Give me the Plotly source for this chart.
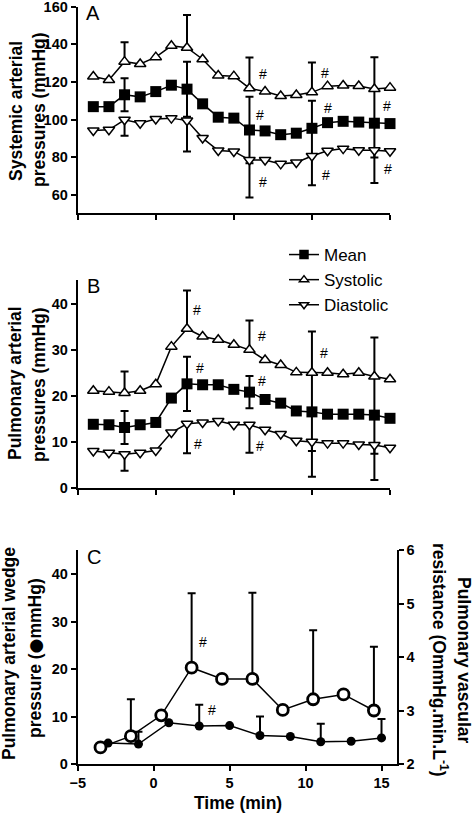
import numpy as np
import plotly.graph_objects as go

W, H = 473, 814
nan = np.nan

# ---------------- data ----------------
time_ab = [-4, -3, -2, -1, 0, 1, 2, 3, 4, 5, 6, 7, 8, 9, 10, 11, 12, 13, 14, 15]

# Panel A: systemic arterial pressures (mmHg)
sys_a = [122.9, 121.1, 130.8, 129.6, 133.2, 139.2, 138.2, 132.1, 123.4, 123.1,
         116.7, 114.9, 112.6, 113.1, 114.5, 117.8, 118.1, 117.9, 116.3, 117.0]
mean_a = [106.9, 106.9, 113.2, 112.1, 114.9, 118.3, 116.2, 108.4, 101.3, 100.8,
          94.5, 94.0, 92.0, 92.8, 95.4, 98.4, 99.1, 98.7, 98.1, 97.9]
dia_a = [94.2, 94.6, 99.9, 98.1, 100.3, 100.8, 99.5, 90.2, 83.6, 83.1,
         78.6, 78.6, 76.5, 77.2, 80.7, 83.5, 84.6, 83.7, 83.7, 83.2]
sys_a_up = [nan, nan, 10.3, nan, nan, nan, 17.4, nan, nan, nan,
            16.3, nan, nan, nan, 15.8, nan, nan, nan, 16.8, nan]
mean_a_sd = [nan, nan, 8.8, nan, nan, nan, 14.6, nan, nan, nan,
             17.7, nan, nan, nan, 14.6, nan, nan, nan, 18.2, nan]
dia_a_down = [nan, nan, 8.5, nan, nan, nan, 16.4, nan, nan, nan,
              20.0, nan, nan, nan, 15.6, nan, nan, nan, 17.3, nan]

# Panel B: pulmonary arterial pressures (mmHg)
sys_b = [21.1, 20.9, 20.6, 21.1, 22.5, 30.7, 34.6, 32.9, 32.2, 31.1,
         30.0, 27.8, 26.7, 25.1, 25.0, 25.0, 24.7, 25.0, 24.2, 23.6]
mean_b = [13.8, 13.7, 13.1, 13.7, 14.2, 19.5, 22.6, 22.4, 22.4, 21.4,
          20.8, 19.2, 18.4, 16.7, 16.5, 16.0, 16.0, 16.0, 15.8, 15.1]
dia_b = [8.0, 7.6, 7.3, 7.6, 8.1, 12.0, 13.9, 14.2, 14.5, 13.7,
         13.7, 12.6, 11.7, 10.2, 10.0, 9.7, 9.7, 9.4, 9.3, 8.7]
sys_b_up = [nan, nan, 4.7, nan, nan, nan, 8.3, nan, nan, nan,
            6.4, nan, nan, nan, 9.0, nan, nan, nan, 8.5, nan]
mean_b_sd = [nan, nan, 3.6, nan, nan, nan, 5.9, nan, nan, nan,
             3.5, nan, nan, nan, 8.5, nan, nan, nan, 8.4, nan]
dia_b_down = [nan, nan, 3.6, nan, nan, nan, 6.4, nan, nan, nan,
              6.1, nan, nan, nan, 7.6, nan, nan, nan, 7.6, nan]

# Panel C: wedge pressure (left axis) and vascular resistance (right axis)
time_pawp = [-3, -1, 1, 3, 5, 7, 9, 11, 13, 15]
pawp = [4.4, 4.2, 8.7, 8.0, 8.1, 6.0, 5.8, 4.7, 4.8, 5.5]
pawp_up = [nan, 2.6, nan, 4.5, nan, 4.0, nan, 3.8, nan, 4.0]
time_pvr = [-3.5, -1.5, 0.5, 2.5, 4.5, 6.5, 8.5, 10.5, 12.5, 14.5]
pvr = [2.31, 2.52, 2.91, 3.80, 3.59, 3.59, 3.01, 3.21, 3.30, 3.00]
pvr_up = [nan, 0.69, nan, 1.39, nan, 1.61, nan, 1.29, nan, 1.19]

x_ticks = [-5, 0, 5, 10, 15]
ya_ticks = [60, 80, 100, 120, 140, 160]
yb_ticks = [0, 10, 20, 30, 40]
yc_ticks = [0, 10, 20, 30, 40]
yc2_ticks = [2, 3, 4, 5, 6]

# significance marks (#) : (time, value)
hash_a = [(6.88, 124.3), (6.69, 102.5), (6.88, 66.9), (10.85, 124.8),
          (11.04, 106.2), (10.92, 70.6), (14.83, 107.3), (14.89, 73.8)]
hash_b = [(2.67, 38.7), (2.82, 26.1), (2.71, 9.5), (6.78, 33.0),
          (6.78, 23.3), (6.67, 9.1), (10.79, 29.4)]
hash_c = [(3.23, 25.7), (3.81, 11.3)]

# ---------------- helpers ----------------
FONT = "Liberation Sans, Arial, Helvetica, sans-serif"


def fx(px):
    return px / W


def fy(py):
    return 1 - py / H


def zeros_where(arr):
    a = np.array(arr, dtype=float)
    return np.where(np.isnan(a), np.nan, 0.0)


def err_up(arr):
    return dict(type="data", symmetric=False, array=np.array(arr, dtype=float),
                arrayminus=zeros_where(arr), color="black", thickness=2, width=4)


def err_down(arr):
    return dict(type="data", symmetric=False, array=zeros_where(arr),
                arrayminus=np.array(arr, dtype=float), color="black", thickness=2, width=4)


def err_sym(arr):
    a = np.array(arr, dtype=float)
    return dict(type="data", symmetric=False, array=a, arrayminus=a,
                color="black", thickness=2, width=4)


LINE = dict(color="black", width=1.5)
SQ = dict(symbol="square", size=11, color="black")
TU = dict(symbol="triangle-up", size=10, color="white", line=dict(color="black", width=1.5))
TD = dict(symbol="triangle-down", size=10, color="white", line=dict(color="black", width=1.5))

fig = go.Figure()

# Panel A
fig.add_trace(go.Scatter(x=time_ab, y=mean_a, mode="lines+markers", line=LINE, marker=SQ,
                         error_y=err_sym(mean_a_sd), showlegend=False, cliponaxis=False,
                         xaxis="x", yaxis="y"))
fig.add_trace(go.Scatter(x=time_ab, y=sys_a, mode="lines+markers", line=LINE, marker=TU,
                         error_y=err_up(sys_a_up), showlegend=False, cliponaxis=False,
                         xaxis="x", yaxis="y"))
fig.add_trace(go.Scatter(x=time_ab, y=dia_a, mode="lines+markers", line=LINE, marker=TD,
                         error_y=err_down(dia_a_down), showlegend=False, cliponaxis=False,
                         xaxis="x", yaxis="y"))

# Panel B
fig.add_trace(go.Scatter(x=time_ab, y=mean_b, mode="lines+markers", line=LINE, marker=SQ,
                         error_y=err_sym(mean_b_sd), showlegend=False, cliponaxis=False,
                         xaxis="x2", yaxis="y2"))
fig.add_trace(go.Scatter(x=time_ab, y=sys_b, mode="lines+markers", line=LINE, marker=TU,
                         error_y=err_up(sys_b_up), showlegend=False, cliponaxis=False,
                         xaxis="x2", yaxis="y2"))
fig.add_trace(go.Scatter(x=time_ab, y=dia_b, mode="lines+markers", line=LINE, marker=TD,
                         error_y=err_down(dia_b_down), showlegend=False, cliponaxis=False,
                         xaxis="x2", yaxis="y2"))

# Panel C
fig.add_trace(go.Scatter(x=time_pawp, y=pawp, mode="lines+markers", line=LINE,
                         marker=dict(symbol="circle", size=9, color="black"),
                         error_y=err_up(pawp_up), showlegend=False, cliponaxis=False,
                         xaxis="x3", yaxis="y3"))
fig.add_trace(go.Scatter(x=time_pvr, y=pvr, mode="lines+markers", line=LINE,
                         marker=dict(symbol="circle", size=11, color="white",
                                     line=dict(color="black", width=2.8)),
                         error_y=err_up(pvr_up), showlegend=False, cliponaxis=False,
                         xaxis="x3", yaxis="y4"))

# legend entries
for name, sym, fill in [("Mean", "square", "black"), ("Systolic", "triangle-up", "white"),
                        ("Diastolic", "triangle-down", "white")]:
    fig.add_trace(go.Scatter(x=[None], y=[None], mode="lines+markers", name=name,
                             line=LINE,
                             marker=dict(symbol=sym, size=8, color=fill,
                                         line=dict(color="black", width=1.5)),
                             xaxis="x", yaxis="y"))

axis_common = dict(showline=True, linewidth=2, linecolor="black", ticks="outside",
                   ticklen=5, tickwidth=2, tickcolor="black", showgrid=False,
                   zeroline=False, automargin=False, ticklabeloverflow="allow",
                   tickfont=dict(family=FONT, size=14.5, color="black", weight="bold"))

fig.update_layout(
    template="none",
    width=W, height=H,
    margin=dict(l=0, r=0, t=0, b=0, pad=0, autoexpand=False),
    paper_bgcolor="white", plot_bgcolor="rgba(0,0,0,0)",
    font=dict(family=FONT, color="black"),
    xaxis=dict(domain=[fx(77.7), fx(390)], range=[-5, 15], tickvals=x_ticks,
               showticklabels=False, anchor="y", **axis_common),
    yaxis=dict(domain=[fy(213), fy(6.7)], range=[50.4, 160], tickvals=ya_ticks,
               anchor="x", **axis_common),
    xaxis2=dict(domain=[fx(77.7), fx(390)], range=[-5, 15], tickvals=x_ticks,
                showticklabels=False, anchor="y2", **axis_common),
    yaxis2=dict(domain=[fy(487.7), fy(280)], range=[0, 45.2], tickvals=yb_ticks,
                anchor="x2", **axis_common),
    xaxis3=dict(domain=[fx(77.7), fx(396.7)], range=[-5, 16], tickvals=x_ticks,
                anchor="y3", **axis_common),
    yaxis3=dict(domain=[fy(764), fy(550)], range=[0, 45.1], tickvals=yc_ticks,
                anchor="x3", **axis_common),
    yaxis4=dict(range=[2, 6], tickvals=yc2_ticks, overlaying="y3", side="right",
                anchor="x3", **axis_common),
    legend=dict(x=fx(284), y=fy(237), xanchor="left", yanchor="top",
                font=dict(family=FONT, size=17, color="black"),
                bgcolor="rgba(0,0,0,0)", borderwidth=0, tracegroupgap=0),
)

ann = []


def add_text(text, px, py, size, bold=False, angle=0):
    ann.append(dict(text=("<b>%s</b>" % text) if bold else text, x=fx(px), y=fy(py),
                    xref="paper", yref="paper", xanchor="center", yanchor="middle",
                    showarrow=False, textangle=angle,
                    font=dict(family=FONT, size=size, color="black")))


# panel letters
add_text("A", 93, 13, 20)
add_text("B", 93, 286, 20)
add_text("C", 94, 557, 20)

# axis titles
add_text("Systemic arterial", 16, 111, 17.5, bold=True, angle=-90)
add_text("pressures (mmHg)", 39, 110, 17.5, bold=True, angle=-90)
add_text("Pulmonary arterial", 15, 383, 17.5, bold=True, angle=-90)
add_text("pressures (mmHg)", 39, 385, 17.5, bold=True, angle=-90)
add_text("Pulmonary arterial wedge", 9, 654, 17.5, bold=True, angle=-90)
add_text("pressure (<span style='font-family:DejaVu Sans;font-size:17px'>●</span>mmHg)",
         35, 658, 17.5, bold=True, angle=-90)
add_text("Pulmonary vascular", 464, 660, 17.5, bold=True, angle=90)
add_text("resistance (OmmHg.min.L<sup>-1</sup>)", 440, 660, 17.5, bold=True, angle=90)
add_text("Time (min)", 237.5, 803, 17.5, bold=True)

for (xs, ys), (tx, ty) in [(("x", "y"), p) for p in hash_a] + \
        [(("x2", "y2"), p) for p in hash_b] + [(("x3", "y3"), p) for p in hash_c]:
    ann.append(dict(text="#", x=tx, y=ty, xref=xs, yref=ys, showarrow=False,
                    xanchor="center", yanchor="middle",
                    font=dict(family=FONT, size=14, color="black")))

fig.update_layout(annotations=ann)
fig.write_html("out.html", config={"displayModeBar": False},
               post_script="document.body.style.margin='0';document.body.style.padding='0';")
